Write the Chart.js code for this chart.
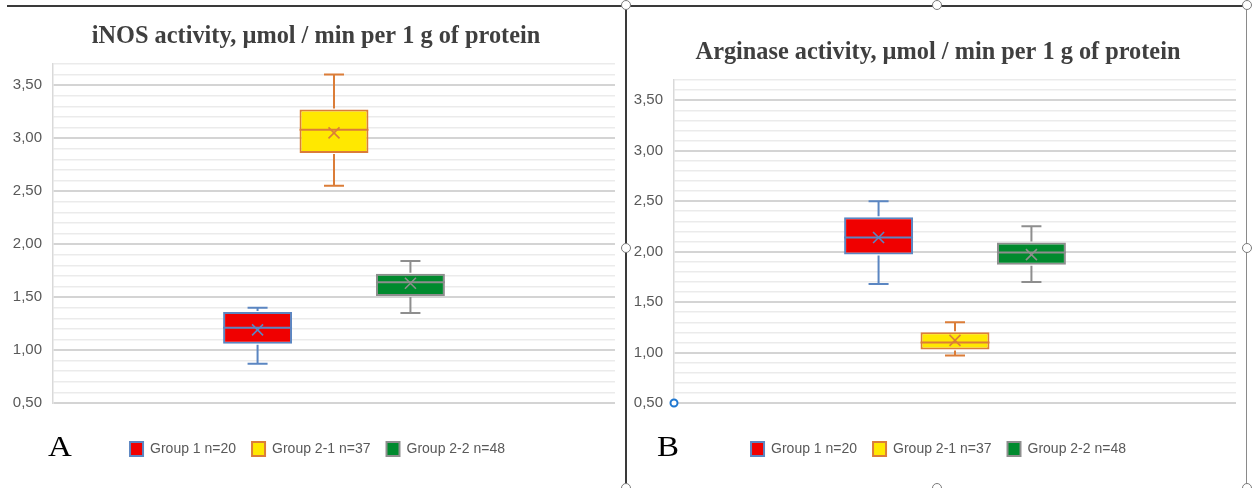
<!DOCTYPE html>
<html>
<head>
<meta charset="utf-8">
<script src="https://cdn.jsdelivr.net/npm/chart.js@4.4.1/dist/chart.umd.min.js"></script>
<style>
  html, body { margin: 0; padding: 0; background: #fff; }
  body { width: 1252px; height: 488px; position: relative; overflow: hidden; }
  .panel { position: absolute; top: 0; height: 488px; }
  .line { position: absolute; background: #3a3a3a; }
  .handle { position: absolute; width: 10px; height: 10px; border-radius: 50%;
            border: 1.5px solid #7a7a7a; background: #fff; box-sizing: border-box; }
</style>
</head>
<body>
<div class="panel" style="left:0;width:627px"><canvas id="ca" width="627" height="488"></canvas></div>
<div class="panel" style="left:627px;width:625px"><canvas id="cb" width="625" height="488"></canvas></div>

<div class="line" style="left:7px;top:5px;width:616px;height:2px"></div>
<div class="line" style="left:625px;top:6px;width:2px;height:482px"></div>
<div class="line" style="left:627px;top:5px;width:619px;height:2px"></div>
<div class="line" style="left:1246px;top:6px;width:1px;height:482px;background:#8a8a8a"></div>
<div class="handle" style="left:621px;top:0px"></div>
<div class="handle" style="left:932px;top:0px"></div>
<div class="handle" style="left:1242px;top:0px"></div>
<div class="handle" style="left:621px;top:243px"></div>
<div class="handle" style="left:1242px;top:243px"></div>
<div class="handle" style="left:621px;top:483px"></div>
<div class="handle" style="left:932px;top:483px"></div>
<div class="handle" style="left:1242px;top:483px"></div>

<script>
// ---------------- DATA ----------------
const groups = ['Group 1 n=20', 'Group 2-1 n=37', 'Group 2-2 n=48'];

// Panel A: iNOS activity
const inosMin    = [0.87, 2.55, 1.35];
const inosQ1     = [1.06, 2.86, 1.51];
const inosMedian = [1.21, 3.08, 1.64];
const inosQ3     = [1.36, 3.27, 1.72];
const inosMax    = [1.40, 3.60, 1.84];
const inosMean   = [1.19, 3.05, 1.63];

// Panel B: Arginase activity
const argMin    = [1.68, 0.97, 1.70];
const argQ1     = [1.97, 1.03, 1.87];
const argMedian = [2.14, 1.10, 1.99];
const argQ3     = [2.34, 1.20, 2.09];
const argMax    = [2.50, 1.30, 2.25];
const argMean   = [2.14, 1.12, 1.97];

// Axis
const yMin = 0.5, yMax = 3.7, yStep = 0.1, yLabelEvery = 0.5;

const titleA = 'iNOS activity, \u00b5mol / min per 1 g of protein';
const titleB = 'Arginase activity, \u00b5mol / min per 1 g of protein';

// ---------------- STYLE ----------------
const fills  = ['#f00000', '#ffe800', '#008a2e'];
const lines  = ['#5b86c2', '#db7d38', '#8e8e8e'];
const SANS = "'Liberation Sans Narrow', 'Liberation Sans', Arial, sans-serif";
const SERIF = "'Liberation Serif', 'Times New Roman', serif";

const boxPlotPlugin = {
  id: 'boxExtras',
  afterLayout(chart, args, opts) {
    if (chart.legend && opts.legendShift) {
      chart.legend.left += opts.legendShift;
      chart.legend.right += opts.legendShift;
    }
  },
  afterDatasetsDraw(chart, args, opts) {
    const ctx = chart.ctx, y = chart.scales.y;
    const st = opts.stats;
    if (!st) return;
    chart.data.datasets.forEach((ds, i) => {
      const bar = chart.getDatasetMeta(i).data[0];
      if (!bar) return;
      const x = bar.x, w = bar.width;
      const c = lines[i];
      ctx.save();
      ctx.strokeStyle = c;
      ctx.lineWidth = 2;
      ctx.lineCap = 'butt';
      const pMin = y.getPixelForValue(st.min[i]), pQ1 = y.getPixelForValue(st.q1[i]);
      const pQ3 = y.getPixelForValue(st.q3[i]), pMax = y.getPixelForValue(st.max[i]);
      const pMed = y.getPixelForValue(st.median[i]), pMean = y.getPixelForValue(st.mean[i]);
      ctx.beginPath();
      ctx.moveTo(x, pQ1 + 1); ctx.lineTo(x, pMin);
      ctx.moveTo(x, pQ3 - 1); ctx.lineTo(x, pMax);
      ctx.moveTo(x - 10, pMin); ctx.lineTo(x + 10, pMin);
      ctx.moveTo(x - 10, pMax); ctx.lineTo(x + 10, pMax);
      ctx.moveTo(x - w / 2, pMed); ctx.lineTo(x + w / 2, pMed);
      ctx.stroke();
      ctx.lineWidth = 1.6;
      const r = 5.5;
      ctx.beginPath();
      ctx.moveTo(x - r, pMean - r); ctx.lineTo(x + r, pMean + r);
      ctx.moveTo(x + r, pMean - r); ctx.lineTo(x - r, pMean + r);
      ctx.stroke();
      ctx.restore();
    });
    if (opts.originMarker) {
      ctx.save();
      ctx.strokeStyle = '#1f78d1';
      ctx.fillStyle = '#fff';
      ctx.lineWidth = 2;
      ctx.beginPath();
      ctx.arc(chart.chartArea.left, y.getPixelForValue(yMin), 3.5, 0, Math.PI * 2);
      ctx.fill(); ctx.stroke();
      ctx.restore();
    }
  }
};

const textPlugin = {
  id: 'panelText',
  afterDraw(chart, args, opts) {
    const ctx = chart.ctx;
    ctx.save();
    ctx.font = 'bold ' + opts.titleSize + 'px ' + SERIF;
    ctx.fillStyle = '#3f3f3f';
    ctx.textBaseline = 'alphabetic';
    ctx.textAlign = 'center';
    ctx.translate(opts.titleX, opts.titleY);
    ctx.scale(opts.titleSx, 1);
    ctx.fillText(opts.title, 0, 0);
    ctx.restore();
    ctx.save();
    ctx.font = opts.letterSize + 'px ' + SERIF;
    ctx.fillStyle = '#000';
    ctx.textAlign = 'left';
    ctx.textBaseline = 'alphabetic';
    ctx.translate(opts.letterX, opts.letterY);
    ctx.scale(opts.letterSx, 1);
    ctx.fillText(opts.letter, 0, 0);
    ctx.restore();
  }
};

function isMajor(v) {
  return Math.round(v * 10) % Math.round(yLabelEvery * 10) === 0;
}

function makeChart(canvasId, s, p) {
  const datasets = groups.map((g, i) => ({
    label: g,
    data: [[s.q1[i], s.q3[i]]],
    backgroundColor: fills[i],
    borderColor: lines[i],
    borderWidth: 2,
    borderSkipped: false,
    categoryPercentage: 0.408,
    barPercentage: 0.902
  }));
  return new Chart(document.getElementById(canvasId), {
    type: 'bar',
    data: { labels: [''], datasets },
    plugins: [boxPlotPlugin, textPlugin],
    options: {
      responsive: false,
      animation: false,
      layout: { padding: { top: p.top, right: p.right, left: 0, bottom: p.bottom } },
      scales: {
        x: {
          type: 'category',
          grid: { display: false },
          border: { display: false },
          ticks: { display: false },
          afterFit: sc => { sc.height = p.xh; }
        },
        y: {
          min: yMin, max: yMax,
          afterFit: sc => { sc.width = p.yw; },
          border: { display: true, color: '#d9d9d9', width: 1.5 },
          grid: {
            drawTicks: false,
            color: c => isMajor(c.tick.value) ? '#d4d4d4' : '#ebebeb',
            lineWidth: c => isMajor(c.tick.value) ? 2 : 1.5
          },
          ticks: {
            stepSize: yStep,
            autoSkip: false,
            padding: 11,
            color: '#595959',
            font: { family: SANS, size: 15 },
            callback: v => isMajor(v) ? v.toFixed(2).replace('.', ',') : ''
          }
        }
      },
      plugins: {
        tooltip: { enabled: false },
        title: { display: false },
        legend: {
          position: 'bottom',
          labels: {
            boxWidth: 13, boxHeight: 14, padding: 16,
            color: '#595959',
            font: { family: SANS, size: 14 }
          }
        },
        boxExtras: { stats: s, originMarker: p.origin, legendShift: p.legendShift },
        panelText: {
          title: p.title, titleSize: 26, titleSx: 0.935, titleX: p.titleX, titleY: p.titleY,
          letter: p.letter, letterSize: 30, letterSx: 1.1, letterX: p.letterX, letterY: p.letterY
        }
      }
    }
  });
}

makeChart('ca',
  { min: inosMin, q1: inosQ1, median: inosMedian, q3: inosQ3, max: inosMax, mean: inosMean },
  { top: 64, right: 12, bottom: 22, xh: 23, yw: 53, origin: false, legendShift: 10,
    title: titleA, titleX: 316, titleY: 43, letter: 'A', letterX: 48, letterY: 456 });

makeChart('cb',
  { min: argMin, q1: argQ1, median: argMedian, q3: argQ3, max: argMax, mean: argMean },
  { top: 80, right: 16, bottom: 22, xh: 23, yw: 47, origin: true, legendShift: 7,
    title: titleB, titleX: 311, titleY: 59, letter: 'B', letterX: 30, letterY: 456 });
</script>
</body>
</html>
